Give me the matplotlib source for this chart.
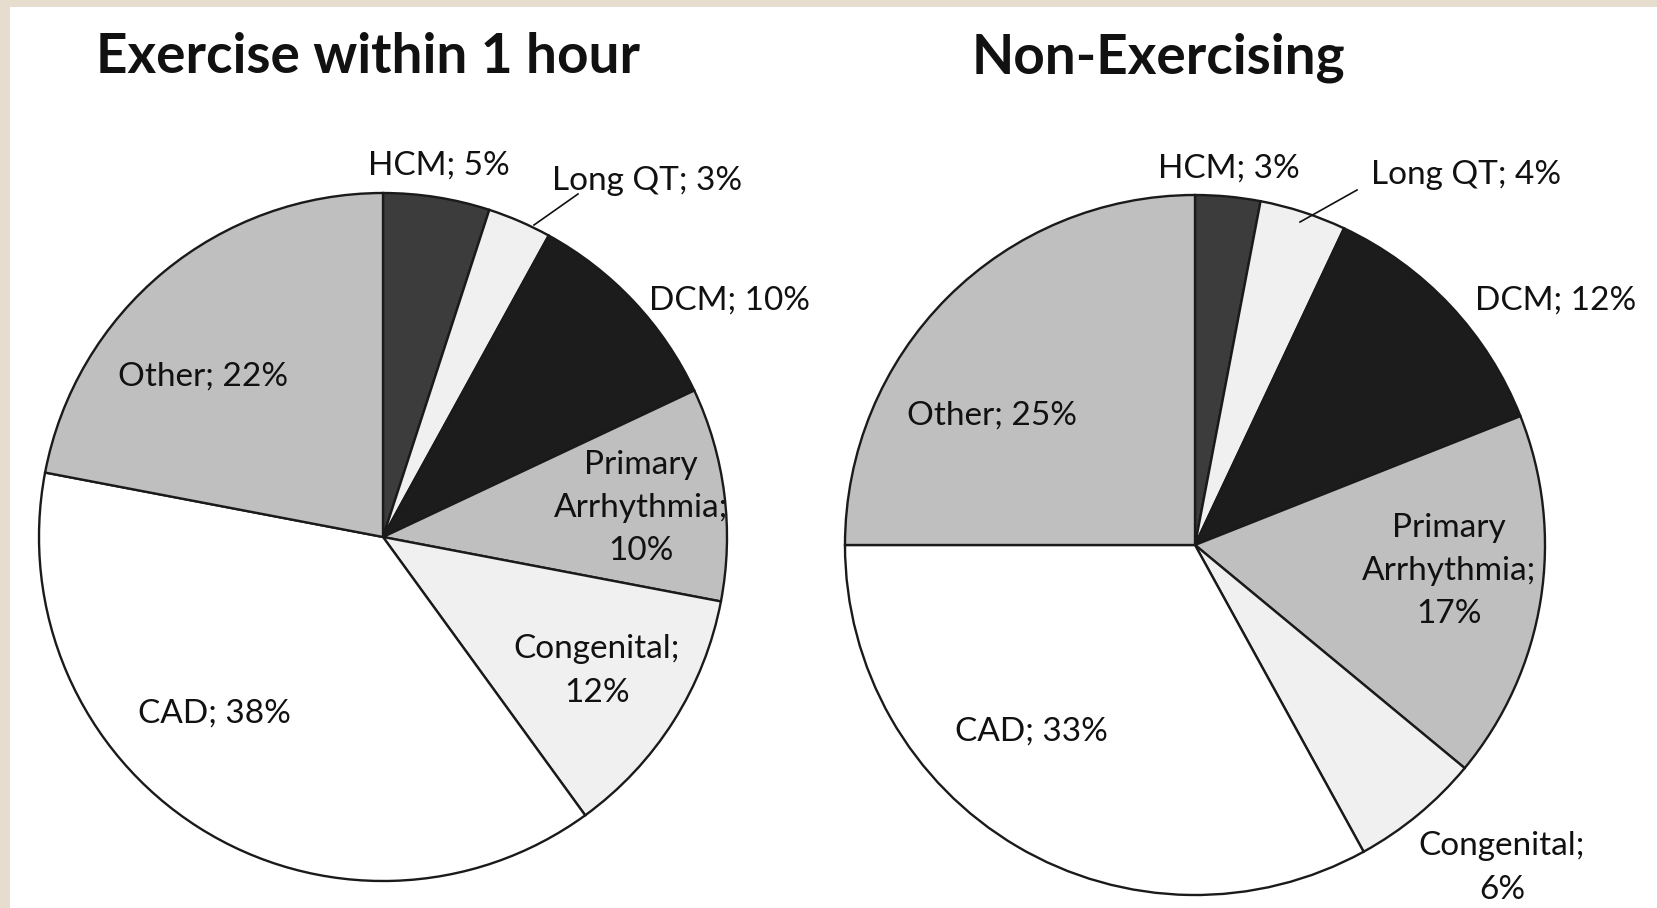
import matplotlib
matplotlib.use("Agg")
import matplotlib.pyplot as plt

plt.rcParams['font.family'] = ['Lato', 'DejaVu Sans']

# data
causes = ["HCM", "Long QT", "DCM", "Primary Arrhythmia", "Congenital", "CAD", "Other"]
exercise_pct = [5, 3, 10, 10, 12, 38, 22]
nonexercise_pct = [3, 4, 12, 17, 6, 33, 25]
titles = ["Exercise within 1 hour", "Non-Exercising"]
slice_colors = ["#3c3c3c", "#f0f0f0", "#1c1c1c", "#bfbfbf", "#f0f0f0", "#ffffff", "#bfbfbf"]

W, H = 1658, 908
fig = plt.figure(figsize=(W / 100, H / 100), dpi=100)
fig.patch.set_facecolor("#e6ddcf")

# white panel, coords in pixels with y up
ax = fig.add_axes([10 / W, 0, (W - 10) / W, (H - 7) / H])


def label_text(name, v):
    # multi-line labels as in the original
    if name == "Primary Arrhythmia":
        return "Primary\nArrhythmia;\n%d%%" % v
    if name == "Congenital":
        return "Congenital;\n%d%%" % v
    return "%s; %d%%" % (name, v)


# pie centres / radii and label spots (pixels, y measured from top)
pies = [
    dict(vals=exercise_pct, c=(383, 537), r=344, title_xy=(368, 57),
         spots=[(439, 166), (647, 181), (730, 301), (641, 508), (597, 671), (214, 714), (203, 377)],
         leader=((534, 225), (578, 194))),
    dict(vals=nonexercise_pct, c=(1195, 545), r=350, title_xy=(1158, 58),
         spots=[(1229, 169), (1466, 175), (1556, 301), (1449, 571), (1502, 868), (1031, 732), (992, 416)],
         leader=((1300, 222), (1357, 190))),
]

for p in pies:
    cx, cy = p["c"]
    ax.pie(p["vals"], colors=slice_colors, startangle=90, counterclock=False,
           center=(cx, H - cy), radius=p["r"],
           wedgeprops=dict(edgecolor="#1a1a1a", linewidth=1.7))
    for name, v, (tx, ty) in zip(causes, p["vals"], p["spots"]):
        ax.text(tx, H - ty, label_text(name, v), ha="center", va="center",
                fontsize=24, color="#111111", linespacing=1.55)
    (x0, y0), (x1, y1) = p["leader"]
    ax.plot([x0, x1], [H - y0, H - y1], color="#111111", lw=1.2)

for p, t in zip(pies, titles):
    tx, ty = p["title_xy"]
    ax.text(tx, H - ty, t, ha="center", va="center", fontsize=39.5,
            fontweight="bold", color="#111111")

ax.set_frame_on(True)
for s in ax.spines.values():
    s.set_visible(False)
ax.set_facecolor("white")
ax.set_xlim(10, W)
ax.set_ylim(0, H - 7)
ax.set_aspect("equal")
ax.set_xticks([])
ax.set_yticks([])

fig.savefig("out.png", dpi=100, facecolor=fig.get_facecolor())
